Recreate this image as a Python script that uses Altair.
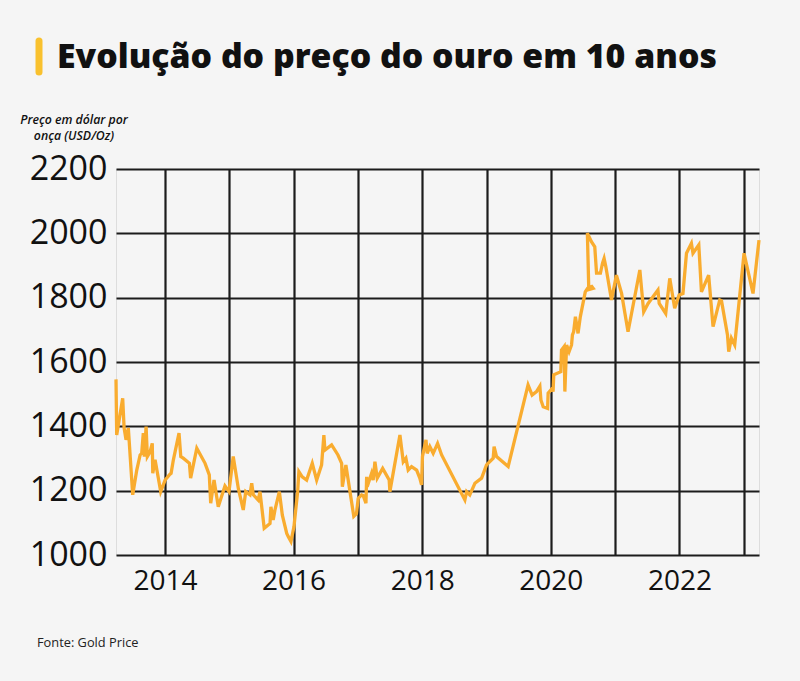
import altair as alt
import pandas as pd

# ---- data ----
dates = [
    "2013-03-28", "2013-04-01", "2013-05-05", "2013-05-13", "2013-05-24", "2013-06-06", "2013-07-01",
    "2013-07-24", "2013-08-12", "2013-08-21", "2013-08-30", "2013-09-05", "2013-09-15", "2013-09-22",
    "2013-10-07", "2013-10-20", "2013-10-23", "2013-11-05", "2013-12-07",
    "2014-01-01", "2014-01-25", "2014-02-04", "2014-02-17", "2014-03-21", "2014-03-31", "2014-04-14",
    "2014-05-19", "2014-05-26", "2014-06-30", "2014-08-16", "2014-09-09", "2014-09-17", "2014-10-06",
    "2014-10-30", "2014-12-07", "2014-12-30",
    "2015-01-23", "2015-02-21", "2015-03-21", "2015-04-04", "2015-04-28", "2015-05-08", "2015-05-17",
    "2015-06-14", "2015-06-24", "2015-07-18", "2015-08-20", "2015-08-25", "2015-09-07", "2015-09-17",
    "2015-10-12", "2015-10-29", "2015-11-23", "2015-12-02", "2015-12-17",
    "2016-01-03", "2016-01-24", "2016-01-31", "2016-02-19", "2016-03-15", "2016-04-16", "2016-05-11",
    "2016-06-08", "2016-06-21", "2016-06-27", "2016-08-04", "2016-09-09", "2016-09-30", "2016-10-04",
    "2016-10-24", "2016-12-08", "2016-12-23",
    "2017-01-02", "2017-01-21", "2017-01-30", "2017-02-15", "2017-02-19", "2017-02-22", "2017-03-19",
    "2017-03-28", "2017-04-07", "2017-04-20", "2017-05-21", "2017-06-27", "2017-07-01", "2017-08-27",
    "2017-09-15", "2017-09-30", "2017-10-13", "2017-11-01", "2017-11-30", "2017-12-18", "2017-12-28",
    "2018-01-02", "2018-01-22", "2018-01-29", "2018-02-13", "2018-03-04", "2018-03-29", "2018-04-21",
    "2018-08-31", "2018-09-10", "2018-09-28", "2018-10-27", "2018-12-04",
    "2019-01-01", "2019-02-08", "2019-02-13", "2019-02-27", "2019-05-04", "2019-08-25", "2019-09-17",
    "2019-10-12", "2019-10-31", "2019-11-06", "2019-11-19", "2019-12-14", "2019-12-17",
    "2020-01-09", "2020-01-14", "2020-01-18", "2020-02-27", "2020-03-02", "2020-03-17", "2020-03-21",
    "2020-03-31", "2020-04-14", "2020-04-28", "2020-05-03", "2020-05-10", "2020-05-20", "2020-06-04",
    "2020-06-17", "2020-07-06", "2020-07-15", "2020-07-29", "2020-08-21", "2020-08-29", "2020-08-04",
    "2020-07-27", "2020-08-19", "2020-09-07", "2020-09-17", "2020-10-09", "2020-10-21", "2020-10-30",
    "2020-11-09", "2020-12-11",
    "2021-01-08", "2021-02-06", "2021-03-15", "2021-05-21", "2021-06-12", "2021-07-07", "2021-09-01",
    "2021-09-08", "2021-10-15", "2021-11-07", "2021-12-05", "2021-12-30",
    "2022-01-21", "2022-02-10", "2022-03-10", "2022-03-19", "2022-04-21", "2022-05-06", "2022-06-16",
    "2022-07-11", "2022-08-18", "2022-08-28", "2022-10-01", "2022-10-08", "2022-10-23", "2022-11-11",
    "2023-01-03", "2023-02-23", "2023-03-29",
]

prices = [
    1546, 1373, 1487, 1395, 1358, 1395, 1187, 1264, 1311, 1316, 1379, 1306, 1399, 1306,
    1320, 1347, 1254, 1296, 1197,
    1233, 1249, 1254, 1296, 1379, 1306, 1301, 1285, 1239, 1332, 1285, 1249, 1161, 1233,
    1150, 1215, 1197,
    1306, 1207, 1140, 1197, 1187, 1223, 1187, 1171, 1197, 1083, 1098, 1150, 1109, 1140,
    1197, 1124, 1067, 1057, 1042,
    1088, 1197, 1259, 1243, 1233, 1285, 1233, 1280, 1373, 1326, 1342, 1311, 1285, 1212,
    1280, 1120, 1128,
    1176, 1187, 1185, 1161, 1243, 1212, 1254, 1233, 1290, 1239, 1269, 1233, 1197, 1373,
    1290, 1301, 1264, 1275, 1264, 1239, 1218,
    1306, 1358, 1316, 1337, 1316, 1347, 1311, 1171, 1197, 1187, 1223, 1239,
    1280, 1301, 1337, 1306, 1275, 1529, 1497, 1508, 1525, 1482, 1461, 1456, 1503,
    1518, 1508, 1560, 1570, 1637, 1648, 1508, 1653, 1632, 1653, 1684, 1694, 1741, 1689,
    1741, 1793, 1818, 1830, 1835, 1829, 1825, 2000, 1974, 1958, 1876, 1876, 1907, 1922,
    1896, 1793,
    1870, 1814, 1694, 1886, 1756, 1782, 1824, 1782, 1751, 1860, 1767, 1808,
    1813, 1938, 1969, 1938, 1964, 1818, 1870, 1710, 1793, 1790, 1684, 1632, 1674, 1653,
    1938, 1813, 1979,
]

year_ticks = list(range(2014, 2024))
price_ticks = [1000, 1200, 1400, 1600, 1800, 2000, 2200]

title_text = "Evolução do preço do ouro em 10 anos"
y_title_lines = ["Preço em dólar por", "onça (USD/Oz)"]
source_text = "Fonte: Gold Price"

# ---- table ----
df = pd.DataFrame({"data": dates, "preco": prices, "ordem": list(range(len(dates)))})


def dt(s):
    y, m, d = (int(p) for p in s.split("-"))
    return alt.DateTime(year=y, month=m, date=d, utc=True)


W, H = 643, 386
FONT = "Open Sans"
GRID = "#1c1c1c"

line = alt.Chart(df).mark_line(color="#F9AC2F", strokeWidth=3.3).encode(
    x=alt.X(
        "data:T",
        scale=alt.Scale(type="utc", domain=[dt(dates[0]), dt(dates[-1])], nice=False),
        axis=alt.Axis(
            values=[alt.DateTime(year=y, month=1, date=1, utc=True) for y in year_ticks],
            labelExpr="utcyear(datum.value) % 2 == 0 ? utcFormat(datum.value, '%Y') : ''",
            title=None,
            ticks=False,
            domain=False,
            grid=True,
            gridColor=GRID,
            gridWidth=2.2,
            gridOpacity=1,
            labelFontSize=28,
            labelColor="#111111",
            labelPadding=12,
            labelFont=FONT,
        ),
    ),
    y=alt.Y(
        "preco:Q",
        scale=alt.Scale(domain=[price_ticks[0], price_ticks[-1]], nice=False, zero=False),
        axis=alt.Axis(
            values=price_ticks,
            format="d",
            title=None,
            ticks=False,
            domain=False,
            grid=True,
            gridColor=GRID,
            gridWidth=2,
            gridOpacity=1,
            labelFontSize=34,
            labelColor="#111111",
            labelPadding=9,
            labelFont=FONT,
        ),
    ),
    order=alt.Order("ordem:Q"),
)

title = alt.Chart(pd.DataFrame({"t": [title_text]})).mark_text(
    font=FONT, fontSize=33.8, fontWeight=800, align="left", baseline="alphabetic", color="#111111"
).encode(text="t:N", x=alt.value(-59), y=alt.value(-101))

bar = alt.Chart(pd.DataFrame({"t": [title_text]})).mark_rule(
    color="#F9C12E", strokeWidth=7, strokeCap="round"
).encode(x=alt.value(-77), y=alt.value(-128), y2=alt.value(-97))

ytitle = alt.Chart(pd.DataFrame({"t": ["\n".join(y_title_lines)]})).mark_text(
    font=FONT, fontSize=12.3, fontStyle="italic", fontWeight=600, align="center",
    baseline="alphabetic", color="#111111", lineBreak="\n", lineHeight=15.5
).encode(text="t:N", x=alt.value(-42), y=alt.value(-45))

source = alt.Chart(pd.DataFrame({"t": [source_text]})).mark_text(
    font=FONT, fontSize=12.8, align="left", baseline="alphabetic", color="#222222"
).encode(text="t:N", x=alt.value(-79), y=alt.value(478))

chart = alt.layer(line, title, bar, ytitle, source).properties(
    width=W,
    height=H,
    padding={"left": 116, "top": 169, "right": 41, "bottom": 126},
    autosize=alt.AutoSizeParams(type="none"),
    background="#F5F5F5",
).configure_view(stroke=GRID, strokeWidth=2).configure(font=FONT)

chart.save("out.html", embed_options={"renderer": "svg", "actions": False})
